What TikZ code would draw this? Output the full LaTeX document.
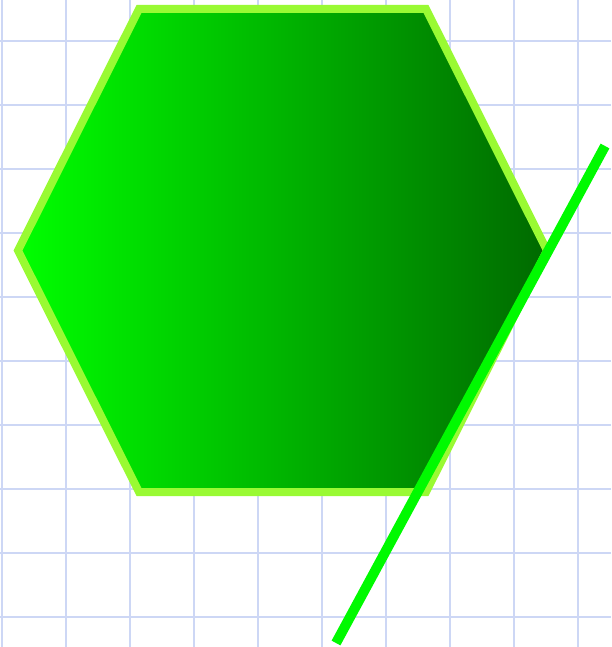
\documentclass[tikz,border=0pt]{standalone}
\usepackage{tikz}
\definecolor{gridblue}{RGB}{205,215,245}
\definecolor{hexedge}{RGB}{153,250,51}
\definecolor{hexleft}{RGB}{0,255,0}
\definecolor{hexright}{RGB}{0,105,0}
\definecolor{slash}{RGB}{0,250,0}
\tikzset{
  gridline/.style={draw=gridblue, line width=2pt},
  hexstyle/.style={draw=hexedge, line width=8pt, line join=miter, left color=hexleft, right color=hexright},
  slashline/.style={draw=slash, line width=10pt, line cap=butt}
}
\begin{document}
\begin{tikzpicture}[x=1pt,y=-1pt]
  \useasboundingbox (0,0) rectangle (611,647);
  % grid
  \foreach \gx in {2,66,...,610} { \draw[gridline] (\gx,0) -- (\gx,647); }
  \foreach \gy in {41,105,...,646} { \draw[gridline] (0,\gy) -- (611,\gy); }
  % hexagon
  \coordinate (h1) at (139,9);
  \coordinate (h2) at (426,9);
  \coordinate (h3) at (547,250.5);
  \coordinate (h4) at (426,492);
  \coordinate (h5) at (139,492);
  \coordinate (h6) at (18,250.5);
  \path[hexstyle] (h1) -- (h2) -- (h3) -- (h4) -- (h5) -- (h6) -- cycle;
  % slanted line
  \coordinate (s1) at (605,146);
  \coordinate (s2) at (336,643);
  \draw[slashline] (s1) -- (s2);
\end{tikzpicture}
\end{document}
